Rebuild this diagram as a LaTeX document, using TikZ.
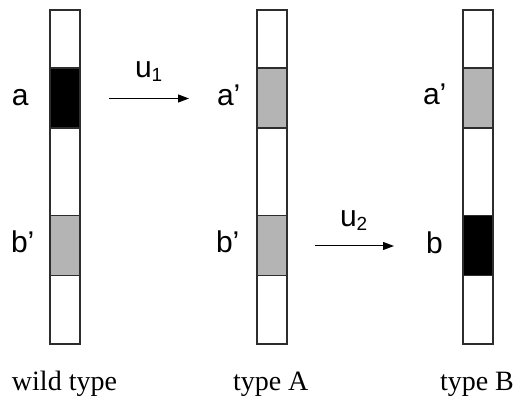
\documentclass[tikz,border=0pt]{standalone}
\usepackage{fontspec}
\setmainfont{Liberation Serif}
\newfontfamily\arialf{Liberation Sans}
\usetikzlibrary{arrows.meta}
\definecolor{segray}{RGB}{180,180,180}
\definecolor{edgec}{RGB}{45,45,45}
\begin{document}
\begin{tikzpicture}[x=1pt,y=-1pt,
  barbox/.style={draw=edgec,line width=1.3pt,fill=white,minimum width=30pt,minimum height=334pt,inner sep=0pt,outer sep=0pt},
  segbox/.style={draw=edgec,line width=1.3pt,minimum width=30pt,minimum height=60pt,inner sep=0pt,outer sep=0pt},
  lab/.style={font=\arialf\fontsize{30}{32}\selectfont,anchor=base west,inner sep=0pt,outer sep=0pt},
  captext/.style={font=\fontsize{28}{30}\selectfont,anchor=base west,inner sep=0pt,outer sep=0pt},
  arr/.style={line width=1pt,-{Triangle[length=11pt,width=8pt]}}]
\useasboundingbox (0,0) rectangle (517,406);
% bars
\node[barbox] (barW) at (65,177) {};
\node[barbox] (barA) at (272,177) {};
\node[barbox] (barB) at (478,177) {};
% segments
\node[segbox,fill=black] (wa) at (65,98) {};
\node[segbox,fill=segray] (wb) at (65,245.5) {};
\node[segbox,fill=segray] (aa) at (272,98) {};
\node[segbox,fill=segray] (ab) at (272,245.5) {};
\node[segbox,fill=segray] (ba) at (478,98) {};
\node[segbox,fill=black] (bb) at (478,245.5) {};
% labels
\node[lab] (la) at (12,106) {a};
\node[lab] (lwb) at (11,253) {b’};
\node[lab] (laa) at (217,106) {a’};
\node[lab] (lab2) at (216,253) {b’};
\node[lab] (lba) at (423,105) {a’};
\node[lab] (lbb) at (426,254) {b};
% arrows
\coordinate (s1) at (109,98.5);
\coordinate (e1) at (189,98.5);
\coordinate (s2) at (315,246);
\coordinate (e2) at (394,246);
\draw[arr] (s1) -- (e1);
\draw[arr] (s2) -- (e2);
\node[lab] (u1) at (135,78) {u\raisebox{-4pt}{\fontsize{19}{19}\selectfont 1}};
\node[lab] (u2) at (340,227) {u\raisebox{-4pt}{\fontsize{19}{19}\selectfont 2}};
% captions
\node[captext] (cw) at (12,390) {wild type};
\node[captext] (ca) at (233,390) {type A};
\node[captext] (cb) at (440,390) {type B};
\end{tikzpicture}
\end{document}
